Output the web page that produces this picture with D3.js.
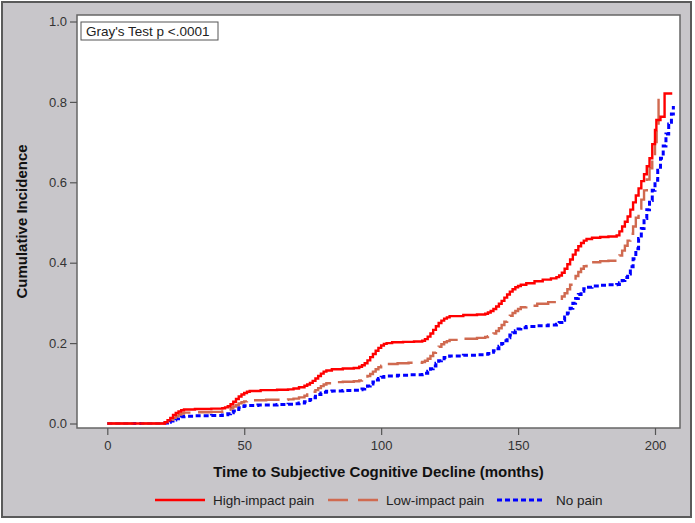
<!DOCTYPE html>
<html>
<head>
<meta charset="utf-8">
<script src="https://cdn.jsdelivr.net/npm/d3@7"></script>
<style>
  body { margin: 0; background: #fff; }
  svg { display: block; font-family: "Liberation Sans", Arial, sans-serif; }
</style>
</head>
<body>
<script>
// [month, cumulative incidence]
const highImpact = [[0,0],[20,0],[21,0.003],[22,0.008],[23,0.014],[24,0.021],[25,0.026],[26,0.030],[27,0.033],[28,0.035],[32,0.036],[38,0.037],[42,0.038],
  [43,0.040],[44,0.043],[45,0.048],[46,0.054],[47,0.061],[48,0.067],[49,0.072],[50,0.076],[51,0.079],[52,0.081],[56,0.083],[62,0.084],[66,0.085],
  [68,0.087],[70,0.090],[72,0.094],[73,0.097],[74,0.101],[75,0.106],[76,0.112],[77,0.118],[78,0.124],[79,0.129],[80,0.132],[82,0.135],[86,0.137],[90,0.138],
  [92,0.141],[93,0.145],[94,0.150],[95,0.157],[96,0.165],[97,0.173],[98,0.181],[99,0.188],[100,0.194],[101,0.198],[102,0.200],[104,0.202],[108,0.203],[112,0.204],[115,0.206],
  [116,0.210],[117,0.216],[118,0.224],[119,0.233],[120,0.242],[121,0.250],[122,0.256],[123,0.261],[124,0.264],[125,0.267],[130,0.270],[135,0.271],[138,0.273],
  [139,0.276],[140,0.280],[141,0.285],[142,0.291],[143,0.298],[144,0.305],[145,0.313],[146,0.321],[147,0.328],[148,0.334],[149,0.339],[150,0.342],[151,0.345],[153,0.349],[156,0.354],[159,0.358],[162,0.361],[164,0.364],
  [165,0.368],[166,0.375],[167,0.385],[168,0.396],[169,0.408],[170,0.420],[171,0.431],[172,0.441],[173,0.449],[174,0.455],[175,0.459],[177,0.462],[180,0.464],[183,0.465],[186,0.468],
  [187,0.478],[188,0.490],[189,0.502],[190,0.515],[191,0.532],[192,0.550],[193,0.567],[194,0.585],[195,0.603],[196,0.620],[197,0.640],[198,0.660],[199,0.695],[200,0.730],[200.5,0.755],[202,0.763],[203.5,0.821],[206.3,0.821]];

const lowImpact = [[0,0],[20,0],[21,0.002],[22,0.005],[23,0.009],[24,0.014],[25,0.018],[26,0.022],[27,0.025],[28,0.027],[32,0.028],[38,0.029],[42,0.030],
  [43,0.031],[44,0.034],[45,0.038],[46,0.042],[47,0.046],[48,0.050],[49,0.053],[50,0.055],[51,0.057],[52,0.058],[58,0.059],[66,0.060],
  [68,0.062],[70,0.065],[72,0.069],[73,0.072],[74,0.075],[75,0.079],[76,0.083],[77,0.088],[78,0.093],[79,0.097],[80,0.100],[82,0.103],[86,0.104],[90,0.105],
  [92,0.107],[93,0.109],[94,0.113],[95,0.118],[96,0.123],[97,0.129],[98,0.135],[99,0.140],[100,0.144],[101,0.147],[102,0.148],[106,0.150],[110,0.151],[115,0.153],
  [116,0.156],[117,0.161],[118,0.168],[119,0.176],[120,0.184],[121,0.191],[122,0.197],[123,0.202],[124,0.205],[125,0.208],[130,0.211],[135,0.213],[138,0.215],
  [139,0.217],[140,0.220],[141,0.224],[142,0.230],[143,0.237],[144,0.245],[145,0.253],[146,0.261],[147,0.268],[148,0.275],[149,0.280],[150,0.285],[151,0.289],[153,0.293],[157,0.298],[161,0.302],[164,0.306],
  [165,0.310],[166,0.316],[167,0.324],[168,0.334],[169,0.345],[170,0.356],[171,0.367],[172,0.377],[173,0.385],[174,0.391],[175,0.396],[177,0.401],[180,0.404],[183,0.405],[186,0.409],
  [187,0.418],[188,0.430],[189,0.442],[190,0.455],[191,0.472],[192,0.490],[193,0.512],[194,0.535],[195,0.557],[196,0.580],[197,0.607],[198,0.635],[199,0.665],[200,0.700],[200.6,0.740],[201.3,0.810],[202.5,0.810]];

const noPain = [[0,0],[20,0],[21,0.001],[22,0.003],[23,0.006],[24,0.009],[25,0.012],[26,0.015],[27,0.017],[28,0.018],[32,0.019],[38,0.020],[42,0.021],
  [43,0.022],[44,0.024],[45,0.027],[46,0.031],[47,0.035],[48,0.039],[49,0.042],[50,0.044],[51,0.045],[55,0.046],[62,0.047],[66,0.048],
  [68,0.049],[70,0.051],[72,0.054],[73,0.057],[74,0.060],[75,0.064],[76,0.068],[77,0.072],[78,0.076],[79,0.078],[80,0.080],[82,0.081],[86,0.082],[90,0.083],
  [92,0.084],[93,0.086],[94,0.089],[95,0.093],[96,0.098],[97,0.103],[98,0.108],[99,0.112],[100,0.115],[101,0.117],[102,0.118],[106,0.120],[110,0.121],[115,0.122],
  [116,0.125],[117,0.130],[118,0.136],[119,0.143],[120,0.150],[121,0.156],[122,0.161],[123,0.164],[124,0.167],[125,0.168],[130,0.170],[135,0.171],[138,0.172],
  [139,0.174],[140,0.177],[141,0.181],[142,0.186],[143,0.192],[144,0.199],[145,0.206],[146,0.213],[147,0.220],[148,0.226],[149,0.231],[150,0.235],[151,0.238],[153,0.241],[157,0.243],[161,0.245],[164,0.247],
  [165,0.251],[166,0.257],[167,0.265],[168,0.275],[169,0.287],[170,0.299],[171,0.311],[172,0.321],[173,0.329],[174,0.335],[175,0.339],[177,0.342],[180,0.344],[183,0.345],[186,0.346],
  [187,0.350],[188,0.356],[189,0.363],[190,0.372],[191,0.390],[192,0.410],[193,0.435],[194,0.460],[195,0.485],[196,0.510],[197,0.532],[198,0.555],[199,0.580],[200,0.605],[201,0.630],[202,0.660],[203,0.690],[204,0.720],[205,0.745],[206,0.770],[206.7,0.790]];

const groupNames = ["High-impact pain", "Low-impact pain", "No pain"];
const xTicks = [0, 50, 100, 150, 200];
const yTicks = [0, 0.2, 0.4, 0.6, 0.8, 1.0];

const w = 695, h = 523;
const plot = { left: 77, top: 15, right: 680, bottom: 428 };

const svg = d3.select("body").append("svg")
  .attr("width", w)
  .attr("height", h);

// background + outer frame
svg.append("rect")
  .attr("x", 2).attr("y", 2)
  .attr("width", 689).attr("height", 515)
  .attr("fill", "#c8c6ca")
  .attr("stroke", "#5a5a5a")
  .attr("stroke-width", 2);

svg.append("rect")
  .attr("x", plot.left).attr("y", plot.top)
  .attr("width", plot.right - plot.left).attr("height", plot.bottom - plot.top)
  .attr("fill", "#fff");

const x = d3.scaleLinear().domain([0, 200]).range([107.3, 655]);
const y = d3.scaleLinear().domain([0, 1]).range([423.5, 21.5]);

const series = [
  { name: groupNames[0], values: highImpact, color: "#ff0000", width: 2.4, dash: null },
  { name: groupNames[1], values: lowImpact, color: "#d06a50", width: 2.4, dash: "26,8" },
  { name: groupNames[2], values: noPain, color: "#0000ff", width: 3, dash: "5,3" }
];

const line = d3.line()
  .x(d => x(d[0]))
  .y(d => y(d[1]))
  .curve(d3.curveStepAfter);

// red on top
const curves = svg.append("g");
series.slice().reverse().forEach(s => {
  curves.append("path")
    .datum(s.values)
    .attr("fill", "none")
    .attr("stroke", s.color)
    .attr("stroke-width", s.width)
    .attr("stroke-dasharray", s.dash)
    .attr("d", line);
});

// plot frame
svg.append("rect")
  .attr("x", plot.left).attr("y", plot.top)
  .attr("width", plot.right - plot.left).attr("height", plot.bottom - plot.top)
  .attr("fill", "none")
  .attr("stroke", "#666")
  .attr("stroke-width", 1.5);

// axes
const yAxis = svg.append("g")
  .attr("transform", `translate(${plot.left},0)`)
  .call(d3.axisLeft(y).tickValues(yTicks).tickFormat(d3.format(".1f")).tickSize(7).tickPadding(3));
const xAxis = svg.append("g")
  .attr("transform", `translate(0,${plot.bottom})`)
  .call(d3.axisBottom(x).tickValues(xTicks).tickSize(7).tickPadding(6));

[xAxis, yAxis].forEach(a => {
  a.select(".domain").remove();
  a.selectAll("line").attr("stroke", "#555").attr("stroke-width", 1.2);
  a.selectAll("text")
    .attr("fill", "#333")
    .style("font-size", "13px")
    .style("font-family", "'Liberation Sans', Arial, sans-serif");
});

// axis titles
svg.append("text")
  .attr("x", 378.5)
  .attr("y", 477)
  .attr("text-anchor", "middle")
  .style("font-size", "15px")
  .style("font-weight", "bold")
  .attr("fill", "#111")
  .text("Time to Subjective Cognitive Decline (months)");

svg.append("text")
  .attr("transform", "translate(27,221.5) rotate(-90)")
  .attr("text-anchor", "middle")
  .style("font-size", "15px")
  .style("font-weight", "bold")
  .attr("fill", "#111")
  .text("Cumulative Incidence");

// Gray's test box
svg.append("rect")
  .attr("x", 81).attr("y", 22)
  .attr("width", 137).attr("height", 18)
  .attr("fill", "#fff")
  .attr("stroke", "#555")
  .attr("stroke-width", 1);
svg.append("text")
  .attr("x", 86)
  .attr("y", 36)
  .style("font-size", "13.5px")
  .attr("fill", "#222")
  .text("Gray's Test p <.0001");

// legend
const legendPos = [
  { x1: 155, x2: 205, tx: 213 },
  { x1: 328, x2: 378, tx: 386 },
  { x1: 497, x2: 545, tx: 556 }
];
const legend = svg.append("g");
series.forEach((s, i) => {
  const p = legendPos[i];
  legend.append("line")
    .attr("x1", p.x1).attr("x2", p.x2)
    .attr("y1", 500).attr("y2", 500)
    .attr("stroke", s.color)
    .attr("stroke-width", s.width)
    .attr("stroke-dasharray", i === 1 ? "20,10" : s.dash);
  legend.append("text")
    .attr("x", p.tx)
    .attr("y", 505)
    .style("font-size", "13.5px")
    .attr("fill", "#222")
    .text(s.name);
});
</script>
</body>
</html>
